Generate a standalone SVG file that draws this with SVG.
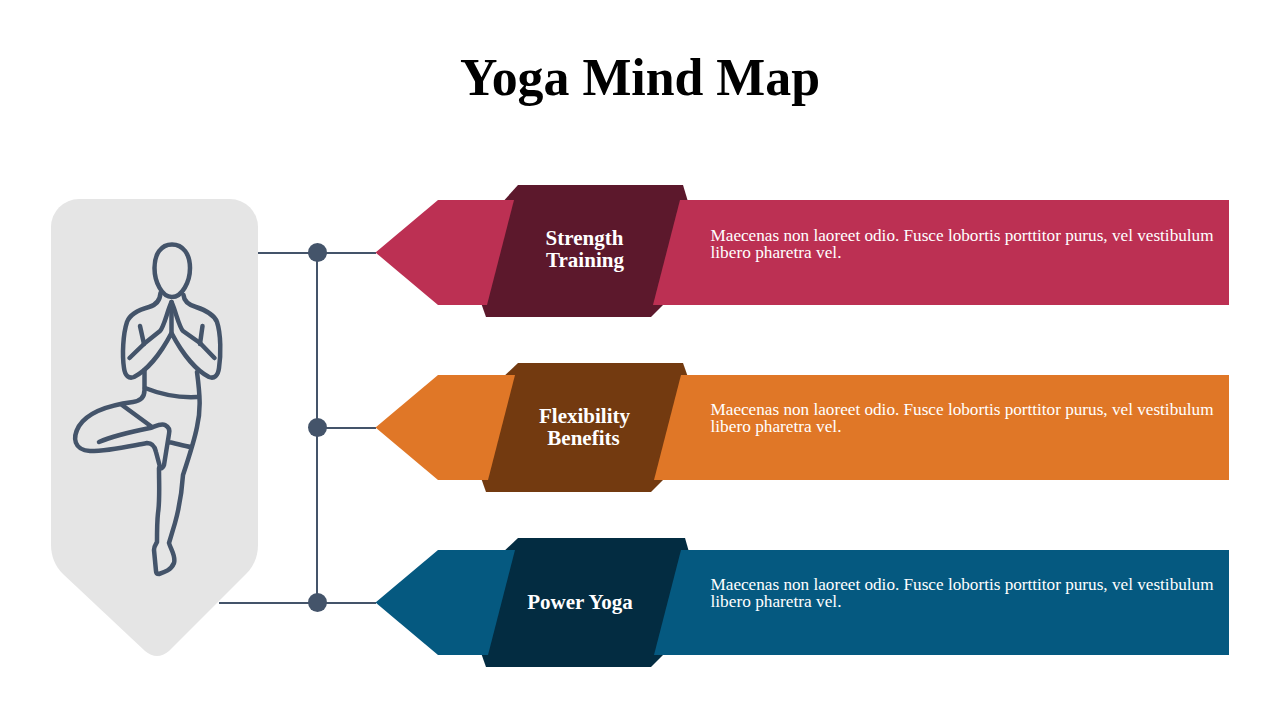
<svg xmlns="http://www.w3.org/2000/svg" width="1280" height="720" viewBox="0 0 1280 720">
<style>
text{font-family:"Liberation Serif","DejaVu Serif",serif}
.title{font-size:52px;font-weight:700;fill:#000}
.head{font-size:21px;font-weight:700;fill:#fff;text-anchor:middle}
.body{font-size:16px;fill:#fff}
.conn{fill:none;stroke:#44546a;stroke-width:2}
.dot{fill:#44546a}
.fig{fill:none;stroke:#44546a;stroke-width:4.500;stroke-linecap:round;stroke-linejoin:round}
</style>
<rect width="1280" height="720" fill="#fff"/>
<text class="title" x="460" y="95" textLength="360" lengthAdjust="spacingAndGlyphs">Yoga Mind Map</text>
<g id="connectors">
<path class="conn" d="M258 253H376M317 253V603M317 428H376M219 603H376"/>
<circle class="dot" cx="317.500" cy="252.500" r="9.500"/>
<circle class="dot" cx="317.500" cy="427.500" r="9.500"/>
<circle class="dot" cx="317.500" cy="602.500" r="9.500"/>
</g>
<g id="yoga-panel">
<path fill="#e5e5e5" d="M79 199H230A28 28 0 0 1 258 227V545C258 556 254 566 246 574L169 651Q157 661 145 651L63 574C55 566 51 556 51 545V227A28 28 0 0 1 79 199Z"/>
<g class="fig">
<path d="M172 244.500C161 244.500 154.500 254 154.500 268C154.500 282 162 297 172 297C182 297 190 282 190 268C190 254 183 244.500 172 244.500Z"/>
<path d="M160.500 293C160 301 156 305 149 307C138 310 130 314 127 322C123 334 122 355 124 368C125 376 129 379 134 377C146 371 160 355 171.500 333C183 355 197 371 209 377C214 379 218 376 219 368C221 355 221 334 217 322C214 314 205 310 196 307C189 305 184 301 183.500 295"/>
<path d="M129.500 358L145 343L160 331C164 327 167 312 171.500 302C176 312 179 327 183 331L200 343L214.500 358"/>
<path d="M171.500 302V333M140 326L144 344M202.500 326L200 344"/>
<path d="M144.500 370V390C144.500 398 140 401 133 402C110 405 88 412 79 426C72 438 74 450 90 451C110 451 130 446 147 443C153 443 155 447 156 452L160 467"/>
<path d="M145 388C160 394 178 398 197 397M197 372C200 395 201 410 197 427C194 442 188 460 183 475C182 490 180 505 175 523L169 543C171 550 176 556 174 563C171 570 165 572 159 574C157 574 156 573 156 571L154 550C154 546 156 544 157 542C157 530 157 522 158 513C160 500 159 485 159 468"/>
<path d="M122 405L152 427M99 442C115 435 135 431 150 428C156 426 161 423 165 425C169 427 170 430 169 434L164 465C163 468 161 469 160 467M168 442C175 443 183 446 191 447"/>
</g>
</g>
<g id="node-strength">
<polygon fill="#5c182c" points="518,185 683,185 689,205 663,305 651,317 486,317 480,300 500,205"/>
<polygon fill="#bc3053" points="375.500,252.500 438,200 514,200 487,305 438,305"/>
<polygon fill="#bc3053" points="680,200 1229,200 1229,305 653,305"/>
<text class="head" x="584.500" y="245">Strength</text>
<text class="head" x="585" y="267">Training</text>
<text class="body" x="710.500" y="241" textLength="503" lengthAdjust="spacingAndGlyphs">Maecenas non laoreet odio. Fusce lobortis porttitor purus, vel vestibulum</text>
<text class="body" x="710.500" y="258" textLength="131" lengthAdjust="spacingAndGlyphs">libero pharetra vel.</text>
</g>
<g id="node-flexibility">
<polygon fill="#733a10" points="518,363 683,363 689,380 663,480 651,492 486,492 480,475 500,380"/>
<polygon fill="#e07727" points="375.500,427.500 438,375 515,375 488,480 438,480"/>
<polygon fill="#e07727" points="681,375 1229,375 1229,480 654,480"/>
<text class="head" x="584.500" y="423">Flexibility</text>
<text class="head" x="583.500" y="445">Benefits</text>
<text class="body" x="710.500" y="415" textLength="503" lengthAdjust="spacingAndGlyphs">Maecenas non laoreet odio. Fusce lobortis porttitor purus, vel vestibulum</text>
<text class="body" x="710.500" y="432" textLength="131" lengthAdjust="spacingAndGlyphs">libero pharetra vel.</text>
</g>
<g id="node-power">
<polygon fill="#032c41" points="518,538 685,538 689,552 663,655 651,667 486,667 480,650 500,555"/>
<polygon fill="#055980" points="375.500,602.500 438,550 515,550 488,655 438,655"/>
<polygon fill="#055980" points="681,550 1229,550 1229,655 654,655"/>
<text class="head" x="580" y="609">Power Yoga</text>
<text class="body" x="710.500" y="590" textLength="503" lengthAdjust="spacingAndGlyphs">Maecenas non laoreet odio. Fusce lobortis porttitor purus, vel vestibulum</text>
<text class="body" x="710.500" y="607" textLength="131" lengthAdjust="spacingAndGlyphs">libero pharetra vel.</text>
</g>
</svg>
